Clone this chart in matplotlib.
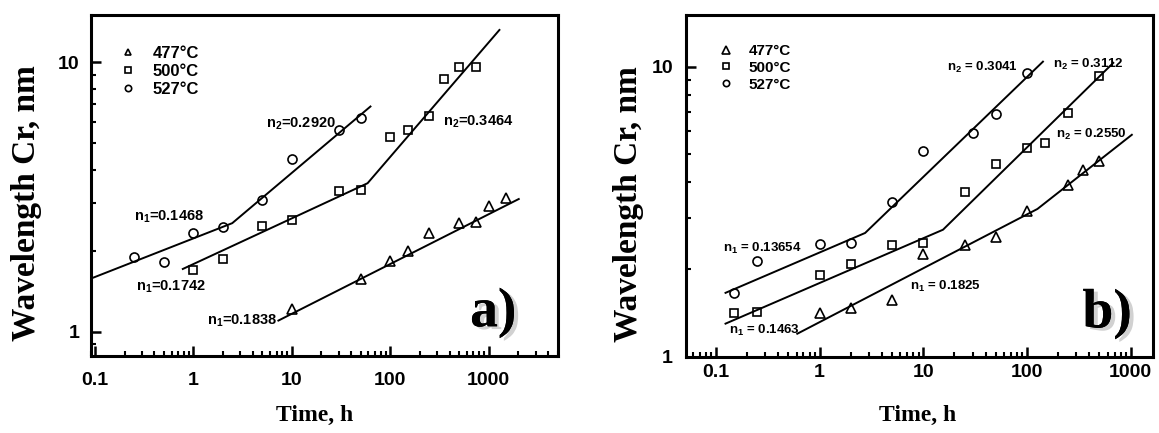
import numpy as np
import matplotlib
matplotlib.use('Agg')
import matplotlib.pyplot as plt
import matplotlib.patheffects as pe
from matplotlib.ticker import LogLocator, FixedLocator, FixedFormatter, NullFormatter

plt.rcParams['font.family'] = 'Liberation Sans'
plt.rcParams['font.weight'] = 'bold'
plt.rcParams['mathtext.fontset'] = 'custom'
plt.rcParams['mathtext.rm'] = 'Liberation Sans:bold'
plt.rcParams['mathtext.it'] = 'Liberation Sans:bold'
plt.rcParams['mathtext.bf'] = 'Liberation Sans:bold'

# ---- panel a) data ----
a_t477 = [10, 50, 100, 150, 250, 500, 750, 1000, 1500]
a_w477 = [1.21, 1.57, 1.83, 2.00, 2.32, 2.53, 2.55, 2.93, 3.13]
a_t500 = [1, 2, 5, 10, 30, 50, 100, 150, 250, 350, 500, 750]
a_w500 = [1.70, 1.87, 2.47, 2.59, 3.33, 3.36, 5.29, 5.59, 6.30, 8.67, 9.58, 9.58]
a_t527 = [0.25, 0.5, 1, 2, 5, 10, 30, 50]
a_w527 = [1.90, 1.81, 2.33, 2.44, 3.09, 4.37, 5.62, 6.21]
# fitted power-law lines (knots)
a_fit477_t = [7.3, 2020]
a_fit477_w = [1.10, 3.11]
a_fit500_t = [0.78, 58.8, 1285]
a_fit500_w = [1.71, 3.56, 13.2]
a_fit527_t = [0.097, 2.48, 62.9]
a_fit527_w = [1.59, 2.53, 6.86]

# ---- panel b) data ----
b_t477 = [1, 2, 5, 10, 25, 50, 100, 250, 350, 500]
b_w477 = [1.41, 1.47, 1.57, 2.26, 2.43, 2.58, 3.17, 3.91, 4.40, 4.72]
b_t500 = [0.15, 0.25, 1, 2, 5, 10, 25, 50, 100, 150, 250, 500]
b_w500 = [1.42, 1.43, 1.91, 2.08, 2.42, 2.46, 3.71, 4.62, 5.23, 5.45, 6.91, 9.29]
b_t527 = [0.15, 0.25, 1, 2, 5, 10, 30, 50, 100]
b_w527 = [1.66, 2.14, 2.44, 2.46, 3.41, 5.10, 5.92, 6.86, 9.54]
b_fit477_t = [0.61, 126, 1025]
b_fit477_w = [1.20, 3.23, 5.82]
b_fit500_t = [0.124, 15.5, 679]
b_fit500_w = [1.30, 2.74, 10.3]
b_fit527_t = [0.124, 2.75, 142.5]
b_fit527_w = [1.66, 2.67, 10.4]

labels = ['477°C', '500°C', '527°C']
markers = ['^', 's', 'o']

W, H = 1159, 433
fig = plt.figure(figsize=(W / 100, H / 100), dpi=100)


def px_axes(l, t, r, b):
    return fig.add_axes([l / W, 1 - b / H, (r - l) / W, (b - t) / H])


axa = px_axes(90.5, 15, 557.5, 355.5)
axb = px_axes(685.5, 15, 1153, 356.7)


def style(ax, xlim, ylim, xpad, ypad):
    ax.set_xscale('log')
    ax.set_yscale('log')
    ax.set_xlim(*xlim)
    ax.set_ylim(*ylim)
    for s in ax.spines.values():
        s.set_linewidth(2.2)
    ax.xaxis.set_major_locator(FixedLocator([0.1, 1, 10, 100, 1000]))
    ax.xaxis.set_major_formatter(FixedFormatter(['0.1', '1', '10', '100', '1000']))
    ax.xaxis.set_minor_locator(LogLocator(base=10, subs=np.arange(2, 10), numticks=20))
    ax.xaxis.set_minor_formatter(NullFormatter())
    ax.yaxis.set_major_locator(FixedLocator([1, 10]))
    ax.yaxis.set_major_formatter(FixedFormatter(['1', '10']))
    ax.yaxis.set_minor_locator(LogLocator(base=10, subs=np.arange(2, 10), numticks=20))
    ax.yaxis.set_minor_formatter(NullFormatter())
    ax.tick_params(which='major', direction='in', length=7, width=1.8, labelsize=14)
    ax.tick_params(which='minor', direction='in', length=3.5, width=1.5)
    ax.tick_params(axis='x', which='major', pad=xpad)
    ax.tick_params(axis='y', which='major', pad=ypad)
    ax.tick_params(top=False, right=False)
    for lab in ax.get_xticklabels() + ax.get_yticklabels():
        lab.set_fontweight('bold')


def draw(ax, pts, fits, ms, leg_fs, leg_anchor):
    handles = []
    for (t, w), m, lab in zip(pts, markers, labels):
        h, = ax.plot(t, w, linestyle='none', marker=m, markersize=ms[m],
                     markerfacecolor='none', markeredgecolor='black',
                     markeredgewidth=1.2, label=lab)
        handles.append(h)
    for t, w in fits:
        ax.plot(t, w, color='black', linewidth=1.4)
    ax.legend(handles=handles, loc='upper left', bbox_to_anchor=leg_anchor,
              frameon=False, markerscale=0.7, handlelength=1.0,
              handletextpad=1.0, labelspacing=0.18, borderpad=0, borderaxespad=0,
              prop={'weight': 'bold', 'size': leg_fs})


style(axa, (0.09, 5000), (0.816, 15.0), 12, 8)
style(axb, (0.051, 1640), (1.0, 15.06), 5, 9)

draw(axa, [(a_t477, a_w477), (a_t500, a_w500), (a_t527, a_w527)],
     [(a_fit477_t, a_fit477_w), (a_fit500_t, a_fit500_w), (a_fit527_t, a_fit527_w)],
     {'^': 7, 's': 5.5, 'o': 6.5}, 12, (0.0625, 0.91))
draw(axb, [(b_t477, b_w477), (b_t500, b_w500), (b_t527, b_w527)],
     [(b_fit477_t, b_fit477_w), (b_fit500_t, b_fit500_w), (b_fit527_t, b_fit527_w)],
     {'^': 7.5, 's': 5.5, 'o': 6.5}, 11, (0.07, 0.915))

# annotations panel a
ann = dict(fontsize=10.5, fontweight='bold', va='center', ha='left')
axa.text(0.25, 2.67, 'n$_1$=0.1468', **ann)
axa.text(0.26, 1.47, 'n$_1$=0.1742', **ann)
axa.text(1.36, 1.10, 'n$_1$=0.1838', **ann)
axa.text(5.48, 5.92, 'n$_2$=0.2920', **ann)
axa.text(344, 6.03, 'n$_2$=0.3464', **ann)

# annotations panel b
annb = dict(fontsize=9.5, fontweight='bold', va='center', ha='left')
axb.text(0.118, 2.36, 'n$_1$ = 0.13654', **annb)
axb.text(0.134, 1.235, 'n$_1$ = 0.1463', **annb)
axb.text(7.38, 1.75, 'n$_1$ = 0.1825', **annb)
axb.text(16.8, 9.92, 'n$_2$ = 0.3041', **annb)
axb.text(179, 10.2, 'n$_2$ = 0.3112', **annb)
axb.text(190, 5.82, 'n$_2$ = 0.2550', **annb)

shadow = [pe.withSimplePatchShadow(offset=(3, -2), shadow_rgbFace='0.6', alpha=0.45), pe.Normal()]
for ax, s, xr in [(axa, 'a)', 0.912), (axb, 'b)', 0.955)]:
    ax.text(xr, 0.05, s, transform=ax.transAxes, ha='right', va='bottom',
            fontsize=40, fontweight='bold', family='Liberation Serif', path_effects=shadow)

serif = dict(family='Liberation Serif', fontweight='bold')
fig.text(26.5 / W, 1 - 203 / H, 'Wavelength Cr, nm', rotation=90, ha='center', va='center',
         fontsize=24, **serif)
fig.text(628 / W, 1 - 204 / H, 'Wavelength Cr, nm', rotation=90, ha='center', va='center',
         fontsize=24, **serif)
fig.text(314.5 / W, 1 - 415 / H, 'Time, h', ha='center', va='center', fontsize=17, **serif)
fig.text(918 / W, 1 - 415 / H, 'Time, h', ha='center', va='center', fontsize=17, **serif)

fig.savefig('out.png', dpi=100)
